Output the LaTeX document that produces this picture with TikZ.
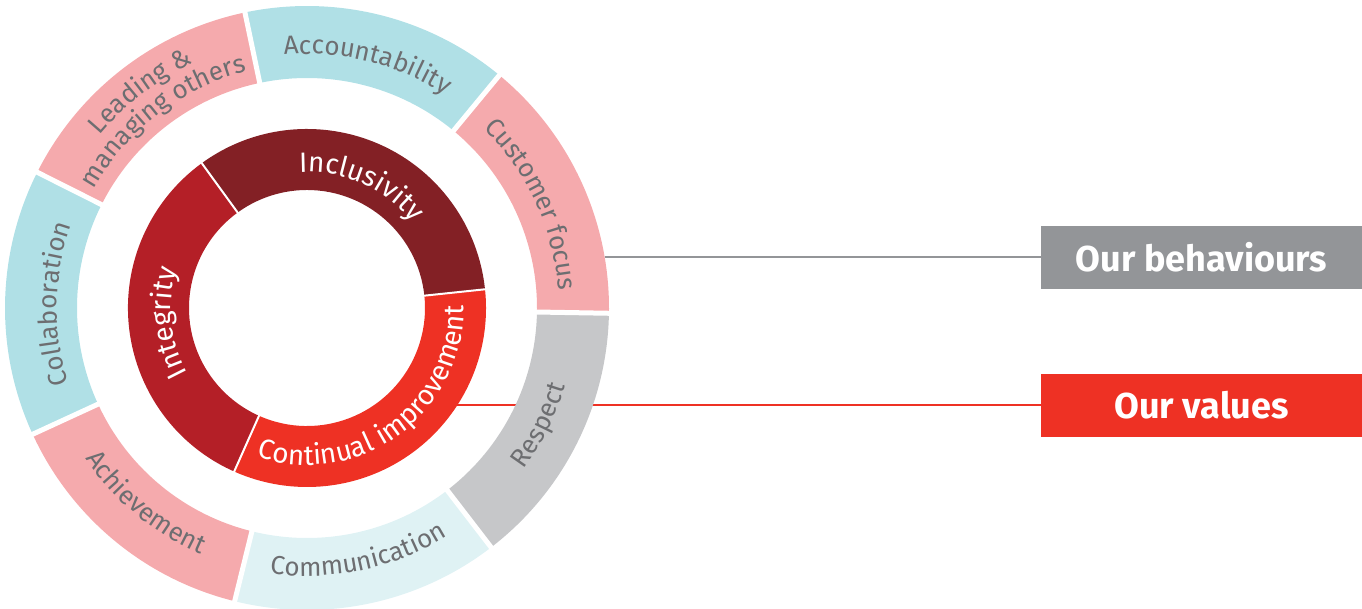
\documentclass[tikz,border=0pt]{standalone}
\usepackage{fontspec}
\setmainfont{Fira Sans}
\usetikzlibrary{decorations.text}
\definecolor{pinkseg}{HTML}{F5AAAD}
\definecolor{blueseg}{HTML}{B0E0E6}
\definecolor{paleseg}{HTML}{DFF2F4}
\definecolor{grayseg}{HTML}{C6C7C9}
\definecolor{ringtxt}{HTML}{6D6E71}
\definecolor{inclcol}{HTML}{832025}
\definecolor{integcol}{HTML}{B41F27}
\definecolor{contcol}{HTML}{EE3124}
\definecolor{behgray}{HTML}{939598}
\newcommand\ringfont{\fontsize{26}{26}\selectfont}
\newcommand\valfont{\fontsize{28}{28}\selectfont}
\newcommand\annsec[5]{\fill[#1] (#2:#4) arc[start angle=#2, end angle=#3, radius=#4] -- (#3:#5) arc[start angle=#3, end angle=#2, radius=#5] -- cycle;}
\tikzset{
  labelbox/.style={minimum width=321, minimum height=63, inner sep=0pt, text=white, font=\fontsize{36}{36}\selectfont\bfseries},
  outertext/.style={decorate, decoration={text along path, text align=center, text color=ringtxt, text={|\ringfont|#1}}},
  innertext/.style={decorate, decoration={text along path, text align=center, text color=white, text={|\valfont|#1}}},
  gapout/.style={white, line width=5pt},
  gapin/.style={white, line width=2pt},
}
\begin{document}
\begin{tikzpicture}[x=1pt,y=1pt]
\useasboundingbox (-307,-300) rectangle (1055,308);
% label boxes
\node[labelbox, fill=behgray] (beh) at (894.5,50.5) {Our behaviours};
\node[labelbox, fill=contcol] (val) at (894.5,-97.5) {Our values};
\coordinate (cfedge) at (9.72:302);
\coordinate (ciedge) at (-32.8:179);
\draw[contcol, line width=1.6pt] (ciedge) -- (ciedge -| val.west);
% outer ring
\annsec{pinkseg}{-1}{50.43}{230}{302}
\annsec{blueseg}{50.43}{101.86}{230}{302}
\annsec{pinkseg}{101.86}{153.29}{230}{302}
\annsec{blueseg}{153.29}{204.71}{230}{302}
\annsec{pinkseg}{204.71}{256.14}{230}{302}
\annsec{paleseg}{256.14}{307.57}{230}{302}
\annsec{grayseg}{307.57}{359}{230}{302}
\foreach \b in {-1,50.43,101.86,153.29,204.71,256.14,307.57}
  \draw[gapout] (\b:226) -- (\b:306);
% inner ring
\annsec{inclcol}{6}{126}{118}{179}
\annsec{integcol}{126}{246}{118}{179}
\annsec{contcol}{246}{366}{118}{179}
\foreach \b in {6,126,246}
  \draw[gapin] (\b:116) -- (\b:181);
% outer labels
\path[outertext={Customer focus}] (50.43:252) arc[start angle=50.43, end angle=-1, radius=252];
\path[outertext={Accountability}] (101.86:254) arc[start angle=101.86, end angle=50.43, radius=254];
\path[outertext={Leading {\&}}] (153.29:270) arc[start angle=153.29, end angle=101.86, radius=270];
\path[outertext={managing others}] (153.29:244) arc[start angle=153.29, end angle=101.86, radius=244];
\path[outertext={Collaboration}] (204.71:250) arc[start angle=204.71, end angle=153.29, radius=250];
\path[outertext={Achievement}] (204.71:268) arc[start angle=204.71, end angle=256.14, radius=268];
\path[outertext={Communication}] (256.14:268) arc[start angle=256.14, end angle=307.57, radius=268];
\path[outertext={Respect}] (307.57:270) arc[start angle=307.57, end angle=359, radius=270];
% inner labels
\path[innertext={Inclusivity}] (126:136) arc[start angle=126, end angle=6, radius=136];
\path[innertext={Integrity}] (246:136) arc[start angle=246, end angle=126, radius=136];
\path[innertext={Continual improvement}] (246:157) arc[start angle=246, end angle=366, radius=157];
% connector
\draw[behgray, line width=1.4pt] (cfedge) -- (cfedge -| beh.west);
\end{tikzpicture}
\end{document}
